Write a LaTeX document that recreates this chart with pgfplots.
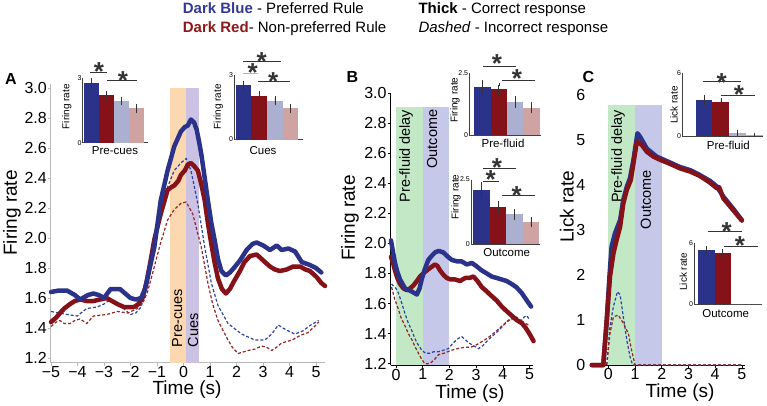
\documentclass[border=0pt]{standalone}
\usepackage{fontspec}
\setmainfont{Liberation Sans}
\usepackage{pgfplots}
\pgfplotsset{compat=1.18}

\definecolor{dblue}{RGB}{43,50,138}
\definecolor{dred}{RGB}{132,18,24}
\definecolor{lblue}{RGB}{172,176,208}
\definecolor{lred}{RGB}{208,163,163}
\definecolor{dashblue}{RGB}{45,65,165}
\definecolor{dashred}{RGB}{150,35,35}
\definecolor{bandorange}{RGB}{252,216,176}
\definecolor{bandpurple}{RGB}{203,194,228}
\definecolor{bandgreen}{RGB}{194,232,198}
\definecolor{bandblue}{RGB}{197,200,232}
\definecolor{legblue}{RGB}{50,58,150}
\definecolor{legred}{RGB}{140,25,25}

\newcommand{\bandfont}{\fontsize{14.5}{14.5}\selectfont}
\newcommand{\insfont}{\fontsize{11.5}{11.5}\selectfont}
\newcommand{\insyfont}{\fontsize{10}{10}\selectfont}
\newcommand{\sigstar}[2]{\node[inner sep=0pt, anchor=center, font=\fontsize{26}{26}\selectfont\bfseries] at (#1,#2) {\raisebox{-0.41em}[0.29em][0pt]{*}};}

\pgfplotsset{
  mainax/.style={scale only axis, anchor=south west, axis lines*=left, clip=false,
    tick align=outside, major tick length=3pt,
    tick style={black, line width=0.6pt}, axis line style={line width=0.8pt},
    tick label style={font=\fontsize{16}{16}\selectfont},
    yticklabel style={inner xsep=1pt},
    xticklabel style={inner ysep=0.5pt},
    label style={font=\fontsize{19}{19}\selectfont, inner sep=0pt},
    /pgf/number format/assume math mode=true},
  inset/.style={scale only axis, anchor=south west, axis lines*=left, clip=false, ymin=0,
    xtick=\empty, ytick style={draw=none},
    yticklabel style={font=\fontsize{7}{7}\selectfont, inner xsep=1pt},
    axis line style={line width=0.6pt, black!75},
    /pgf/number format/assume math mode=true},
  thick line/.style={line width=4.5pt, line join=round, line cap=round},
  dash line/.style={line width=1.2pt, dash pattern=on 3pt off 2pt},
  errb/.style={error bars/.cd, y dir=both, y explicit,
    error bar style={line width=0.5pt, black!80},
    error mark options={line width=0.5pt, mark size=1.5pt, black!80}},
}

\begin{document}
\begin{tikzpicture}[x=1pt,y=1pt]
\path[use as bounding box] (0,0) rectangle (767,405);

% ---------------- Panel A ----------------
\begin{axis}[mainax, at={(51pt,42.5pt)}, width=274.3pt, height=279pt,
  xmin=-5, xmax=5.35, ymin=1.17, ymax=3.03,
  xtick={-5,-4,...,5}, xticklabels={−5,−4,−3,−2,−1,0,1,2,3,4,5},
  ytick={1.2,1.4,1.6,1.8,2.0,2.2,2.4,2.6,2.8,3.0},
  yticklabels={1.2,1.4,1.6,1.8,2.0,2.2,2.4,2.6,2.8,3.0},
  axis line style={gray!55, line width=1pt}, tick style={gray!55},
  xlabel={Time (s)}, ylabel={Firing rate},
  xlabel style={at={(axis description cs:0.496,-0.098)}, anchor=center},
  ylabel style={at={(axis description cs:-0.142,0.536)}, anchor=center}]
\addplot[draw=none, fill=bandorange] coordinates {(-0.5,1.17) (-0.5,3.0) (0.1,3.0) (0.1,1.17)} -- cycle;
\addplot[draw=none, fill=bandpurple] coordinates {(0.1,1.17) (0.1,3.0) (0.6,3.0) (0.6,1.17)} -- cycle;
\node[rotate=90, anchor=west, inner sep=0pt, font=\bandfont] at (axis cs:-0.24,1.27) {Pre-cues};
\node[rotate=90, anchor=west, inner sep=0pt, font=\bandfont] at (axis cs:0.36,1.27) {Cues};
% dashed blue
\addplot[dash line, dashblue] coordinates {(-5,1.51) (-4.7,1.50) (-4.4,1.49) (-4.0,1.48) (-3.8,1.51) (-3.65,1.53) (-3.26,1.54) (-3.0,1.56) (-2.75,1.59) (-2.6,1.58) (-2.4,1.56) (-2.2,1.52) (-2.0,1.49) (-1.8,1.50) (-1.6,1.54) (-1.45,1.64) (-1.36,1.74) (-1.1,1.96) (-0.86,2.19) (-0.6,2.34) (-0.35,2.45) (-0.1,2.50) (0.1,2.53) (0.28,2.45) (0.54,2.23) (0.8,1.94) (1.05,1.70) (1.3,1.55) (1.68,1.43) (1.9,1.40) (2.19,1.36) (2.69,1.32) (3.07,1.32) (3.33,1.36) (3.58,1.42) (3.75,1.40) (3.96,1.38) (4.2,1.36) (4.5,1.38) (4.8,1.42) (5.1,1.45)};
% dashed red
\addplot[dash line, dashred] coordinates {(-5,1.41) (-4.8,1.44) (-4.66,1.45) (-4.5,1.43) (-4.28,1.43) (-4.1,1.45) (-3.9,1.46) (-3.65,1.43) (-3.4,1.48) (-2.9,1.49) (-2.5,1.51) (-2.1,1.50) (-1.74,1.53) (-1.5,1.58) (-1.36,1.64) (-1.1,1.81) (-0.86,1.97) (-0.6,2.12) (-0.35,2.19) (-0.1,2.23) (0.1,2.24) (0.35,2.16) (0.67,1.94) (0.92,1.70) (1.1,1.56) (1.3,1.45) (1.5,1.38) (1.68,1.32) (1.85,1.27) (2.06,1.23) (2.25,1.24) (2.44,1.25) (2.7,1.26) (2.95,1.28) (3.15,1.27) (3.33,1.25) (3.5,1.27) (3.7,1.30) (4.1,1.32) (4.4,1.35) (4.7,1.37) (5.0,1.42) (5.1,1.44)};
% thick red
\addplot[thick line, dred] coordinates {(-5,1.44) (-4.8,1.47) (-4.66,1.50) (-4.5,1.53) (-4.28,1.56) (-4.1,1.58) (-3.9,1.59) (-3.65,1.58) (-3.4,1.58) (-3.15,1.59) (-2.9,1.60) (-2.7,1.58) (-2.5,1.56) (-2.25,1.54) (-2.05,1.54) (-1.87,1.54) (-1.7,1.56) (-1.55,1.60) (-1.4,1.70) (-1.25,1.84) (-1.1,1.99) (-0.86,2.16) (-0.6,2.32) (-0.45,2.34) (-0.35,2.35) (-0.2,2.38) (-0.1,2.42) (0.05,2.45) (0.16,2.49) (0.28,2.50) (0.4,2.48) (0.54,2.45) (0.67,2.36) (0.8,2.25) (0.92,2.10) (1.05,1.96) (1.17,1.84) (1.3,1.73) (1.45,1.66) (1.6,1.63) (1.75,1.66) (1.9,1.71) (2.13,1.78) (2.3,1.84) (2.51,1.88) (2.76,1.89) (3.01,1.85) (3.26,1.81) (3.45,1.79) (3.64,1.78) (3.89,1.79) (4.14,1.81) (4.4,1.81) (4.6,1.79) (4.77,1.78) (5.02,1.74) (5.2,1.70) (5.34,1.68)};
% thick blue
\addplot[thick line, dblue] coordinates {(-5,1.64) (-4.7,1.65) (-4.4,1.65) (-4.1,1.62) (-3.9,1.59) (-3.6,1.62) (-3.4,1.63) (-3.2,1.62) (-3.0,1.60) (-2.75,1.66) (-2.4,1.66) (-2.2,1.63) (-2.0,1.60) (-1.8,1.59) (-1.6,1.60) (-1.45,1.66) (-1.3,1.78) (-1.1,1.94) (-0.86,2.25) (-0.6,2.45) (-0.35,2.61) (-0.2,2.67) (-0.1,2.71) (0.05,2.74) (0.16,2.75) (0.28,2.79) (0.4,2.77) (0.5,2.72) (0.6,2.63) (0.67,2.56) (0.8,2.40) (0.92,2.25) (1.05,2.10) (1.17,1.99) (1.3,1.86) (1.43,1.78) (1.6,1.75) (1.75,1.77) (1.9,1.80) (2.13,1.85) (2.38,1.92) (2.6,1.96) (2.76,1.97) (3.01,1.95) (3.26,1.92) (3.52,1.95) (3.7,1.92) (3.96,1.93) (4.21,1.91) (4.46,1.84) (4.77,1.82) (5.0,1.80) (5.2,1.77)};
\end{axis}

% Inset A1 (Pre-cues)
\begin{axis}[inset, at={(82.7pt,262.3pt)}, width=65.4pt, height=65pt, xmin=0.41, xmax=4.77, ymax=3, ytick={0,3}]
\addplot[ybar, bar width=1, bar shift=0pt, fill=dblue, draw=none, errb] coordinates {(1,2.77) +- (0,0.15)};
\addplot[ybar, bar width=1, bar shift=0pt, fill=dred, draw=none, errb] coordinates {(2,2.20) +- (0,0.12)};
\addplot[ybar, bar width=1, bar shift=0pt, fill=lblue, draw=none, errb] coordinates {(3,1.94) +- (0,0.12)};
\addplot[ybar, bar width=1, bar shift=0pt, fill=lred, draw=none, errb] coordinates {(4,1.58) +- (0,0.12)};
\end{axis}

% Inset A2 (Cues)
\begin{axis}[inset, at={(234.3pt,265.5pt)}, width=68.7pt, height=64pt, xmin=0.41, xmax=4.8, ymax=3, ytick={0,3}]
\addplot[ybar, bar width=1, bar shift=0pt, fill=dblue, draw=none, errb] coordinates {(1,2.54) +- (0,0.15)};
\addplot[ybar, bar width=1, bar shift=0pt, fill=dred, draw=none, errb] coordinates {(2,2.03) +- (0,0.17)};
\addplot[ybar, bar width=1, bar shift=0pt, fill=lblue, draw=none, errb] coordinates {(3,1.82) +- (0,0.15)};
\addplot[ybar, bar width=1, bar shift=0pt, fill=lred, draw=none, errb] coordinates {(4,1.46) +- (0,0.13)};
\end{axis}

% ---------------- Panel B ----------------
\begin{axis}[mainax, at={(390.7pt,39.8pt)}, width=142pt, height=272.2pt,
  xmin=-0.2, xmax=5.12, ymin=1.19, ymax=3.0,
  xtick={0,1,2,3,4,5},
  ytick={1.2,1.4,1.6,1.8,2.0,2.2,2.4,2.6,2.8,3.0},
  yticklabels={1.2,1.4,1.6,1.8,2.0,2.2,2.4,2.6,2.8,3.0},
  xlabel={Time (s)}, ylabel={Firing rate},
  xlabel style={at={(axis description cs:0.558,-0.103)}, anchor=center},
  ylabel style={at={(axis description cs:-0.287,0.541)}, anchor=center}]
\addplot[draw=none, fill=bandgreen] coordinates {(0,1.19) (0,2.91) (1,2.91) (1,1.19)} -- cycle;
\addplot[draw=none, fill=bandblue] coordinates {(1,1.19) (1,2.91) (2,2.91) (2,1.19)} -- cycle;
\node[rotate=90, anchor=east, inner sep=0pt, font=\bandfont] at (axis cs:0.38,2.89) {Pre-fluid delay};
\node[rotate=90, anchor=east, inner sep=0pt, font=\bandfont] at (axis cs:1.35,2.89) {Outcome};
\addplot[dash line, dashblue] coordinates {(-0.17,1.73) (0.0,1.70) (0.09,1.67) (0.2,1.61) (0.34,1.53) (0.46,1.47) (0.59,1.42) (0.7,1.37) (0.78,1.34) (0.96,1.29) (1.1,1.27) (1.27,1.27) (1.42,1.28) (1.59,1.28) (1.78,1.29) (1.96,1.30) (2.1,1.33) (2.21,1.35) (2.35,1.37) (2.46,1.38) (2.6,1.36) (2.71,1.34) (2.9,1.32) (3.09,1.30) (3.25,1.32) (3.46,1.36) (3.65,1.39) (3.84,1.42) (4.0,1.45) (4.21,1.49) (4.35,1.50) (4.52,1.51) (4.62,1.49) (4.71,1.49) (4.8,1.51) (4.89,1.52) (5.02,1.49)};
\addplot[dash line, dashred] coordinates {(-0.17,1.71) (-0.05,1.63) (0.09,1.56) (0.2,1.50) (0.34,1.45) (0.46,1.40) (0.59,1.36) (0.72,1.31) (0.84,1.27) (0.96,1.23) (1.08,1.20) (1.2,1.20) (1.33,1.21) (1.45,1.23) (1.59,1.26) (1.8,1.27) (2.09,1.29) (2.3,1.30) (2.59,1.31) (2.8,1.31) (2.96,1.32) (3.15,1.34) (3.34,1.36) (3.5,1.38) (3.71,1.41) (3.9,1.44) (4.09,1.47) (4.25,1.49) (4.4,1.50) (4.55,1.49) (4.65,1.49) (4.84,1.47) (5.02,1.45)};
\addplot[thick line, dred] coordinates {(-0.19,1.91) (-0.1,1.86) (-0.04,1.82) (0.05,1.77) (0.15,1.73) (0.28,1.70) (0.4,1.69) (0.52,1.70) (0.65,1.72) (0.78,1.75) (0.9,1.78) (1.02,1.80) (1.15,1.82) (1.3,1.84) (1.46,1.86) (1.55,1.85) (1.65,1.82) (1.78,1.79) (1.9,1.77) (2.05,1.76) (2.21,1.76) (2.4,1.75) (2.59,1.77) (2.75,1.77) (2.9,1.78) (3.05,1.75) (3.21,1.71) (3.4,1.68) (3.58,1.65) (3.77,1.62) (3.96,1.58) (4.14,1.55) (4.33,1.52) (4.52,1.49) (4.71,1.47) (4.85,1.44) (4.96,1.41) (5.06,1.38) (5.15,1.35)};
\addplot[thick line, dblue] coordinates {(-0.19,2.02) (-0.1,1.93) (-0.04,1.87) (0.05,1.81) (0.15,1.76) (0.34,1.70) (0.59,1.68) (0.78,1.66) (0.88,1.70) (0.96,1.76) (1.08,1.83) (1.21,1.89) (1.35,1.92) (1.46,1.94) (1.6,1.95) (1.77,1.94) (1.95,1.91) (2.09,1.89) (2.3,1.88) (2.46,1.88) (2.65,1.86) (2.84,1.87) (3.0,1.85) (3.21,1.82) (3.4,1.80) (3.58,1.78) (3.77,1.77) (3.96,1.76) (4.14,1.75) (4.33,1.73) (4.5,1.71) (4.71,1.67) (4.9,1.62) (5.06,1.58)};
\end{axis}

% Inset B1 (Pre-fluid)
\begin{axis}[inset, at={(469.3pt,270pt)}, width=71.5pt, height=61.7pt, xmin=0.215, xmax=4.55, ymax=2.5, ytick={0,2.5}]
\addplot[ybar, bar width=1, bar shift=0pt, fill=dblue, draw=none, errb] coordinates {(1,1.96) +- (0,0.22)};
\addplot[ybar, bar width=1, bar shift=0pt, fill=dred, draw=none, errb] coordinates {(2,1.85) +- (0,0.18)};
\addplot[ybar, bar width=1, bar shift=0pt, fill=lblue, draw=none, errb] coordinates {(3,1.35) +- (0,0.18)};
\addplot[ybar, bar width=1, bar shift=0pt, fill=lred, draw=none, errb] coordinates {(4,1.11) +- (0,0.15)};
\end{axis}

% Inset B2 (Outcome)
\begin{axis}[inset, at={(471pt,160.7pt)}, width=68.9pt, height=64.8pt, xmin=0.35, xmax=4.55, ymax=2.5, ytick={0,2.5}]
\addplot[ybar, bar width=1, bar shift=0pt, fill=dblue, draw=none, errb] coordinates {(1,2.08) +- (0,0.25)};
\addplot[ybar, bar width=1, bar shift=0pt, fill=dred, draw=none, errb] coordinates {(2,1.43) +- (0,0.20)};
\addplot[ybar, bar width=1, bar shift=0pt, fill=lblue, draw=none, errb] coordinates {(3,1.15) +- (0,0.16)};
\addplot[ybar, bar width=1, bar shift=0pt, fill=lred, draw=none, errb] coordinates {(4,0.86) +- (0,0.15)};
\end{axis}

% ---------------- Panel C ----------------
\begin{axis}[mainax, at={(591pt,40pt)}, width=153.5pt, height=270pt,
  xmin=-0.65, xmax=5.1, ymin=0, ymax=6,
  xtick={0,1,2,3,4,5}, ytick={0,1,2,3,4,5,6},
  major tick length=2.5pt,
  y axis line style={draw=none}, ytick style={draw=none},
  yticklabel style={inner xsep=3pt},
  xlabel={Time (s)}, ylabel={Lick rate},
  xlabel style={at={(axis description cs:0.58,-0.102)}, anchor=center},
  ylabel style={at={(axis description cs:-0.158,0.586)}, anchor=center}]
\addplot[draw=none, fill=bandgreen] coordinates {(0,0) (0,5.78) (1,5.78) (1,0)} -- cycle;
\addplot[draw=none, fill=bandblue] coordinates {(1,0) (1,5.78) (2,5.78) (2,0)} -- cycle;
\node[rotate=90, anchor=east, inner sep=0pt, font=\bandfont] at (axis cs:0.37,5.67) {Pre-fluid delay};
\node[rotate=90, anchor=east, inner sep=0pt, font=\bandfont] at (axis cs:1.41,4.33) {Outcome};
\addplot[dash line, dashblue] coordinates {(-0.62,0) (-0.06,0) (0.06,0.85) (0.19,1.30) (0.34,1.63) (0.44,1.56) (0.56,1.07) (0.69,0.56) (0.81,0.19) (0.91,0) (5.0,0)};
\addplot[dash line, dashred] coordinates {(-0.62,0) (-0.06,0) (0.06,0.70) (0.19,1.07) (0.37,1.11) (0.56,0.93) (0.75,0.70) (0.87,0.33) (1.0,0) (5.0,0)};
\addplot[thick line, dblue] coordinates {(-0.62,0) (-0.19,0) (-0.06,1.0) (0.04,1.96) (0.12,2.63) (0.25,2.93) (0.44,3.22) (0.56,3.67) (0.69,3.96) (0.81,4.15) (0.94,4.56) (1.09,5.15) (1.19,5.07) (1.44,4.81) (1.81,4.63) (2.31,4.50) (2.68,4.40) (3.06,4.33) (3.43,4.22) (3.81,4.09) (4.06,3.97) (4.31,3.74) (4.68,3.47) (5.0,3.22)};
\addplot[thick line, dred] coordinates {(-0.62,0) (-0.19,0) (-0.06,1.0) (0.06,1.96) (0.19,2.48) (0.31,2.78) (0.44,3.07) (0.56,3.59) (0.69,3.89) (0.84,4.11) (0.96,4.56) (1.05,4.90) (1.1,4.96) (1.25,4.89) (1.44,4.74) (1.69,4.63) (1.94,4.56) (2.31,4.47) (2.68,4.37) (3.06,4.30) (3.43,4.20) (3.81,4.05) (4.06,3.93) (4.15,3.95) (4.31,3.70) (4.68,3.44) (5.0,3.21)};
\end{axis}

% Inset C1 (Pre-fluid)
\begin{axis}[inset, at={(682.3pt,269pt)}, width=80.4pt, height=62.7pt, xmin=-0.3, xmax=4.5, ymax=6, ytick={0,6}]
\addplot[ybar, bar width=1, bar shift=0pt, fill=dblue, draw=none, errb] coordinates {(1,3.45) +- (0,0.30)};
\addplot[ybar, bar width=1, bar shift=0pt, fill=dred, draw=none, errb] coordinates {(2,3.22) +- (0,0.30)};
\addplot[ybar, bar width=1, bar shift=0pt, fill=lblue, draw=none, errb] coordinates {(3,0.32) +- (0,0.15)};
\addplot[ybar, bar width=1, bar shift=0pt, fill=lred, draw=none, errb] coordinates {(4,0.10) +- (0,0.08)};
\end{axis}

% Inset C2 (Outcome)
\begin{axis}[inset, at={(694.3pt,100.7pt)}, width=67.5pt, height=61pt, xmin=0.26, xmax=4.4, ymax=6, ytick={0,6}]
\addplot[ybar, bar width=1, bar shift=0pt, fill=dblue, draw=none, errb] coordinates {(1,5.35) +- (0,0.25)};
\addplot[ybar, bar width=1, bar shift=0pt, fill=dred, draw=none, errb] coordinates {(2,5.09) +- (0,0.25)};
\addplot[ybar, bar width=1, bar shift=0pt, fill=lblue, draw=none] coordinates {(3,0.0)};
\addplot[ybar, bar width=1, bar shift=0pt, fill=lred, draw=none] coordinates {(4,0.0)};
\end{axis}

% ---------------- Inset labels ----------------
\node[font=\insfont] at (115,254.3) {Pre-cues};
\node[font=\insyfont, rotate=90] at (66.7,298.3) {Firing rate};
\node[font=\insfont] at (263,254.3) {Cues};
\node[font=\insyfont, rotate=90] at (218.3,298.3) {Firing rate};
\node[font=\insfont] at (503,261.7) {Pre-fluid};
\node[font=\insyfont, rotate=90] at (455,305) {Firing rate};
\node[font=\insfont] at (506.7,152.3) {Outcome};
\node[font=\insyfont, rotate=90] at (456,208) {Firing rate};
\node[font=\insfont] at (728.3,259.3) {Pre-fluid};
\node[font=\insyfont, rotate=90] at (674,300) {Lick rate};
\node[font=\insfont] at (725.7,91.7) {Outcome};
\node[font=\insyfont, rotate=90] at (683.3,133.3) {Lick rate};

% ---------------- Significance ----------------
\begin{scope}[line width=0.8pt, black!80]
\draw (90,333) -- (107,333); \sigstar{99}{339}
\draw (107,325) -- (137,325); \sigstar{123}{330}
\draw (243.3,343.7) -- (281,343.7); \sigstar{261.7}{349}
\draw[gray!60] (243,331.3) -- (258.3,331.3); \sigstar{252.7}{338}
\draw (258.3,323.7) -- (290,323.7); \sigstar{273.3}{329}
\draw (482.7,338.3) -- (516,338.3); \sigstar{497}{347}
\draw (501.7,325) -- (535,325); \sigstar{517}{332}
\draw (482.7,236.7) -- (516,236.7); \sigstar{497}{243.3}
\draw (482.7,224) -- (499.3,224); \sigstar{490.7}{231}
\draw (501.7,210) -- (535,210); \sigstar{516.7}{215}
\draw (703.3,323.3) -- (741,323.3); \sigstar{721.7}{328.3}
\draw (721,310) -- (755,310); \sigstar{739}{316}
\draw (708.3,173.3) -- (741.7,173.3); \sigstar{726.7}{179.3}
\draw (724.3,158.3) -- (757.7,158.3); \sigstar{740}{165}
\end{scope}

% ---------------- Panel letters & legend ----------------
\node[font=\bfseries\fontsize{16}{16}\selectfont] at (11,326) {A};
\node[font=\bfseries\fontsize{16}{16}\selectfont] at (352.5,328.5) {B};
\node[font=\bfseries\fontsize{16}{16}\selectfont] at (588.5,328.5) {C};

\node[anchor=base west, inner sep=0pt, font=\fontsize{15}{15}\selectfont] at (182.7,391) {{\bfseries\color{legblue}Dark Blue} - Preferred Rule};
\node[anchor=base west, inner sep=0pt, font=\fontsize{15}{15}\selectfont] at (182.7,372.7) {{\bfseries\color{legred}Dark Red}- Non-preferred Rule};
\node[anchor=base west, inner sep=0pt, font=\fontsize{15}{15}\selectfont] at (418.3,391) {{\bfseries Thick} - Correct response};
\node[anchor=base west, inner sep=0pt, font=\fontsize{15}{15}\selectfont] at (418.3,372.7) {\textit{Dashed} - Incorrect response};
\end{tikzpicture}
\end{document}
